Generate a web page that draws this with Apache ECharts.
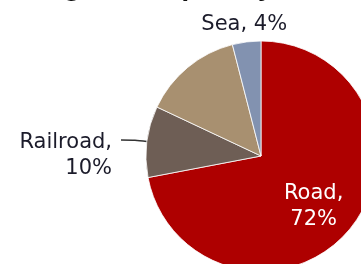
<!DOCTYPE html>
<html>
<head>
<meta charset="utf-8">
<script src="https://cdn.jsdelivr.net/npm/echarts@6/dist/echarts.min.js"></script>
<style>
  html, body { margin: 0; padding: 0; background: #fff; }
  #chart { width: 361px; height: 264px; }
</style>
</head>
<body>
<div id="chart"></div>
<script>
// modal split, % of freight
var modes = ['Road', 'Railroad', 'Other', 'Sea'];
var shares = [72, 10, 14, 4];
var colors = ['#AE0000', '#6E5E55', '#A89070', '#8292B0'];

var chart = echarts.init(document.getElementById('chart'));

var data = modes.map(function (m, i) {
    var d = { name: m, value: shares[i], itemStyle: { color: colors[i] } };
    if (m == 'Road') {
        d.label = { position: 'inside', color: '#fff', offset: [6, 12] };
    } else if (m == 'Railroad') {
        d.label = { offset: [-4, 15] };
    } else if (m == 'Sea') {
        d.labelLine = { show: false };
        d.label = {
            formatter: function (p) { return p.name + ', ' + p.value + '%'; },
            offset: [61, -5]
        };
    } else {
        d.label = { show: false };
        d.labelLine = { show: false };
    }
    return d;
});

chart.setOption({
    animation: false,
    title: {
        text: 'Freight Transport by Mode',
        left: 13,
        top: -25,
        textStyle: { fontFamily: 'DejaVu Sans', fontSize: 22, fontWeight: 'bold', color: '#111' }
    },
    series: [{
        type: 'pie',
        center: [261, 156],
        radius: 115,
        startAngle: 90,
        clockwise: true,
        itemStyle: { borderColor: '#fff', borderWidth: 0.8 },
        label: {
            formatter: function (p) { return p.name + ',\n' + p.value + '%'; },
            fontFamily: 'DejaVu Sans',
            fontSize: 21,
            lineHeight: 26,
            color: '#1b1b2a',
            align: 'center'
        },
        labelLine: {
            length: 12,
            length2: 14,
            smooth: true,
            lineStyle: { color: '#333', width: 1.5 }
        },
        data: data
    }]
});
</script>
</body>
</html>
